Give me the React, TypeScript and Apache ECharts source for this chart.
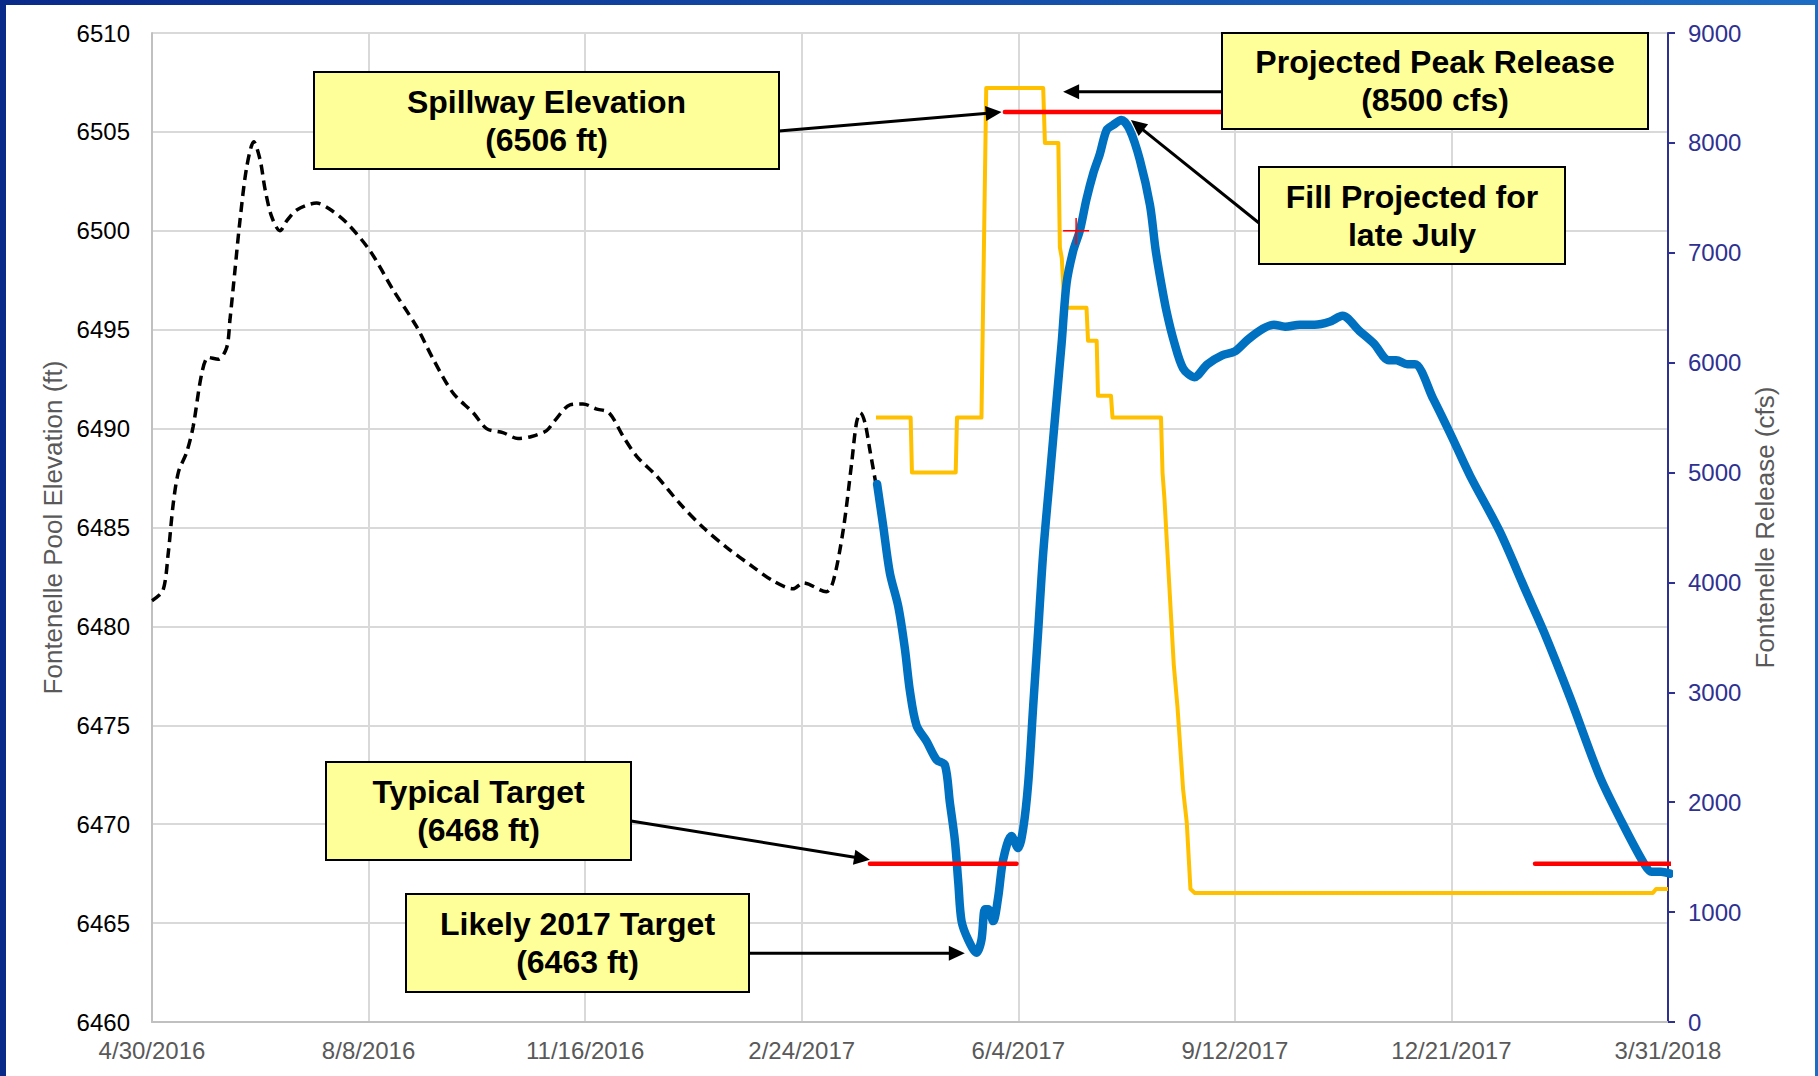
import React, { useEffect, useRef } from "react";
import * as echarts from "echarts";

// x values are days since 4/30/2016
const xTickLabels = [
  "4/30/2016",
  "8/8/2016",
  "11/16/2016",
  "2/24/2017",
  "6/4/2017",
  "9/12/2017",
  "12/21/2017",
  "3/31/2018",
];

// Historical pool elevation (ft) - dashed black
const historicalElevation: [number, number][] = [
  [0, 6481.3], [5, 6481.8], [7.5, 6483.7], [9.8, 6486.2], [12.2, 6487.8],
  [16, 6488.8], [19, 6490.1], [23, 6492.8], [26, 6493.6], [30.6, 6493.5],
  [34.5, 6494.1], [36, 6495.5], [38.3, 6498], [40.6, 6500.5], [43.7, 6503.2],
  [47, 6504.5], [49.9, 6503.6], [52.2, 6502.1], [55.3, 6500.7], [59.1, 6500.0],
  [62.2, 6500.5], [66.8, 6501.05], [76, 6501.4], [82, 6501.1], [89.9, 6500.4],
  [100.6, 6499.0], [111.4, 6497.0], [122.2, 6495.15], [129.9, 6493.5], [139, 6491.8],
  [148.3, 6490.8], [154.5, 6490.0], [162, 6489.8], [169, 6489.5], [175.3, 6489.6],
  [182.2, 6489.9], [186, 6490.4], [193, 6491.2], [199, 6491.25], [205, 6491.0],
  [211, 6490.8], [217.6, 6489.6], [223.8, 6488.6], [233, 6487.6], [243.8, 6486.2],
  [254.5, 6485.0], [265.3, 6484.0], [277.6, 6483.0], [286.8, 6482.3], [296, 6481.9],
  [300.7, 6482.2], [311.4, 6481.75], [314.6, 6482.3], [319.2, 6484.9], [323, 6488.2],
  [325.3, 6490.3], [327.1, 6490.8], [329.2, 6490.3], [331.5, 6488.9], [334.6, 6487.0],
];

// Projected pool elevation (ft) - thick blue
const projectedElevation: [number, number][] = [
  [334.8, 6487.2], [337.6, 6485.1], [340.7, 6482.7], [344.6, 6481.0], [347.6, 6478.9],
  [350, 6476.7], [353, 6475.0], [357.6, 6474.2], [362.3, 6473.25], [366.1, 6473.0],
  [368.4, 6471.1], [370.7, 6469.2], [372.3, 6467.05], [373.8, 6465.1], [376.9, 6464.15],
  [380.7, 6463.5], [383, 6464.15], [384.6, 6465.7], [386.1, 6465.7], [388.4, 6465.1],
  [390.7, 6466.3], [393, 6468.2], [396.8, 6469.4], [399.9, 6468.8], [402.3, 6469.8],
  [404.6, 6472.1], [406.9, 6476.0], [409.2, 6479.8], [411.5, 6483.7], [414.6, 6487.6],
  [417.7, 6491.45], [420, 6494.3], [422.3, 6497.35], [425.4, 6499.0], [428.4, 6500.0],
  [431.5, 6501.6], [434.6, 6502.9], [437.7, 6503.9], [440.8, 6505.1], [443.8, 6505.35],
  [447.6, 6505.6], [451.5, 6505.1], [456.1, 6503.6], [460.8, 6501.3], [463.4, 6499.05],
  [465.9, 6497.4], [468.5, 6495.9], [471.9, 6494.4], [476.1, 6493.05], [481.3, 6492.6],
  [487.3, 6493.25], [494.1, 6493.7], [500, 6493.9], [506, 6494.5], [512.9, 6495.05],
  [518, 6495.25], [523.2, 6495.15], [530, 6495.25], [536.8, 6495.25], [543.7, 6495.4],
  [549.7, 6495.7], [557.4, 6494.95], [564.2, 6494.3], [571.1, 6493.45], [574.5, 6493.45],
  [579.6, 6493.25], [583.1, 6493.25], [591.6, 6491.5], [600.1, 6489.6], [608.7, 6487.6],
  [622.3, 6484.8], [634.3, 6481.8], [642.8, 6479.7], [654.8, 6476.4], [668.5, 6472.4],
  [678.7, 6470.1], [689, 6468.0], [692.4, 6467.6], [696.7, 6467.6], [701, 6467.5],
];

// Projected release (cfs) - yellow, right axis
const projectedRelease: [number, number][] = [
  [334.3, 5500], [350.3, 5500], [350.9, 5000], [371.1, 5000], [371.7, 5500],
  [383.0, 5500], [385.2, 8500], [411.5, 8500], [412.3, 8000], [418.5, 8000],
  [419.2, 7050], [420.1, 6950], [421.3, 6500], [431.5, 6500], [432.2, 6200],
  [436.2, 6200], [436.8, 5700], [442.8, 5700], [443.5, 5500], [465.9, 5500],
  [466.6, 5000], [467.5, 4760], [469.2, 4155], [471.8, 3250], [473.5, 2870],
  [476.1, 2117], [477.8, 1815], [479.5, 1210], [481.5, 1175], [693.0, 1175],
  [694.5, 1210], [700.0, 1210],
];

// Reference lines (ft)
const spillwayElevation: [number, number][] = [[393.8, 6506], [502, 6506]];
const typicalTargetSpring: [number, number][] = [[331.5, 6468], [399.2, 6468]];
const typicalTargetNext: [number, number][] = [[638.6, 6468], [702.4, 6468]];
const fillMarkerH: [number, number][] = [[420.7, 6500], [432.7, 6500]];
const fillMarkerV: [number, number][] = [[426.7, 6500.65], [426.7, 6499.3]];

// Arrow tip points (days, value)
const tipSpillway: [number, number] = [392.3, 6506.0];
const tipPeakRelease: [number, number] = [420.7, 8465];
const tipFill: [number, number] = [452, 6505.6];
const tipTypical: [number, number] = [331.5, 6468.2];
const tipLikely: [number, number] = [375.3, 6463.47];

const FONT = "Liberation Sans, Arial, Helvetica, sans-serif";

function box(id: string, x: number, y: number, w: number, h: number, text: string) {
  return [
    {
      id: id + "_rect",
      type: "rect",
      z: 100,
      shape: { x, y, width: w, height: h },
      style: { fill: "#FFFF99", stroke: "#000000", lineWidth: 2 },
    },
    {
      id: id + "_text",
      type: "text",
      z: 101,
      x: x + w / 2,
      y: y + h / 2,
      style: {
        text,
        fill: "#000000",
        fontFamily: FONT,
        fontSize: 32,
        fontWeight: "bold",
        lineHeight: 38,
        align: "center",
        verticalAlign: "middle",
      },
    },
  ];
}

function arrow(id: string, x1: number, y1: number, x2: number, y2: number) {
  const dx = x2 - x1;
  const dy = y2 - y1;
  const L = Math.hypot(dx, dy);
  const ux = dx / L;
  const uy = dy / L;
  const hl = 16;
  const hw = 7.5;
  const bx = x2 - ux * hl;
  const by = y2 - uy * hl;
  return [
    {
      id: id + "_line",
      type: "line",
      z: 100,
      shape: { x1, y1, x2: bx + ux * 2, y2: by + uy * 2 },
      style: { stroke: "#000000", lineWidth: 3 },
    },
    {
      id: id + "_head",
      type: "polygon",
      z: 100,
      shape: {
        points: [
          [x2, y2],
          [bx - uy * hw, by + ux * hw],
          [bx + uy * hw, by - ux * hw],
        ],
      },
      style: { fill: "#000000" },
    },
  ];
}

export default function App() {
  const ref = useRef<HTMLDivElement>(null);

  useEffect(() => {
    if (!ref.current) return;
    const chart = echarts.init(ref.current, null, { renderer: "svg" });

    const option: any = {
      animation: false,
      backgroundColor: "transparent",
      grid: { left: 152, right: 150, top: 33, bottom: 54, containLabel: false },
      xAxis: {
        type: "value",
        min: 0,
        max: 700,
        interval: 100,
        axisLine: { show: true, onZero: false, lineStyle: { color: "#c0c0c0", width: 2 } },
        axisTick: { show: false },
        axisLabel: {
          show: true,
          showMinLabel: true,
          showMaxLabel: true,
          color: "#595959",
          fontSize: 24,
          fontFamily: FONT,
          margin: 16,
          formatter: (v: number) => xTickLabels[Math.round(v / 100)] ?? "",
        },
        splitLine: { show: true, lineStyle: { color: "#d9d9d9", width: 2 } },
      },
      yAxis: [
        {
          type: "value",
          position: "left",
          min: 6460,
          max: 6510,
          interval: 5,
          name: "Fontenelle Pool Elevation (ft)",
          nameLocation: "middle",
          nameRotate: 90,
          nameGap: 74,
          nameTextStyle: { color: "#595959", fontSize: 26, fontFamily: FONT },
          axisLine: { show: true, lineStyle: { color: "#c0c0c0", width: 2 } },
          axisTick: { show: false },
          axisLabel: {
            color: "#000000",
            fontSize: 24,
            fontFamily: FONT,
            margin: 22,
            formatter: (v: number) => String(v),
          },
          splitLine: { show: true, lineStyle: { color: "#d9d9d9", width: 2 } },
        },
        {
          type: "value",
          position: "right",
          min: 0,
          max: 9000,
          interval: 1000,
          name: "Fontenelle Release (cfs)",
          nameLocation: "middle",
          nameRotate: 90,
          nameGap: 76,
          nameTextStyle: { color: "#595959", fontSize: 26, fontFamily: FONT },
          axisLine: { show: true, lineStyle: { color: "#2E3192", width: 2 } },
          axisTick: { show: true, inside: false, length: 7, lineStyle: { color: "#2E3192", width: 2 } },
          axisLabel: {
            color: "#2E3192",
            fontSize: 24,
            fontFamily: FONT,
            margin: 20,
            formatter: (v: number) => String(v),
          },
          splitLine: { show: false },
        },
      ],
      series: [
        {
          name: "Projected Release",
          type: "line",
          yAxisIndex: 1,
          data: projectedRelease,
          showSymbol: false,
          symbol: "none",
          lineStyle: { color: "#FFC000", width: 4, join: "round" },
          z: 3,
        },
        {
          name: "Historical Elevation",
          type: "line",
          yAxisIndex: 0,
          data: historicalElevation,
          smooth: 0.3,
          symbol: "none",
          lineStyle: { color: "#000000", width: 3.5, type: [10, 6] },
          z: 4,
        },
        {
          name: "Projected Elevation",
          type: "line",
          yAxisIndex: 0,
          data: projectedElevation,
          smooth: 0.3,
          symbol: "none",
          clip: false,
          lineStyle: { color: "#0070C0", width: 8.5, cap: "round", join: "round" },
          z: 5,
        },
        {
          name: "Spillway",
          type: "line",
          yAxisIndex: 0,
          data: spillwayElevation,
          symbol: "none",
          lineStyle: { color: "#FF0000", width: 4.5, cap: "round" },
          z: 6,
        },
        {
          name: "Typical Target",
          type: "line",
          yAxisIndex: 0,
          data: typicalTargetSpring,
          symbol: "none",
          lineStyle: { color: "#FF0000", width: 4.5, cap: "round" },
          z: 6,
        },
        {
          name: "Typical Target 2018",
          type: "line",
          yAxisIndex: 0,
          data: typicalTargetNext,
          symbol: "none",
          clip: false,
          lineStyle: { color: "#FF0000", width: 4.5, cap: "round" },
          z: 6,
        },
        {
          name: "Fill marker H",
          type: "line",
          yAxisIndex: 0,
          data: fillMarkerH,
          symbol: "none",
          lineStyle: { color: "#FF0000", width: 1.5 },
          z: 7,
        },
        {
          name: "Fill marker V",
          type: "line",
          yAxisIndex: 0,
          data: fillMarkerV,
          symbol: "none",
          lineStyle: { color: "#FF0000", width: 1.5 },
          z: 7,
        },
      ],
    };

    chart.setOption(option);

    const toLeft = (p: [number, number]) =>
      chart.convertToPixel({ seriesIndex: 2 }, p) as number[];
    const toRight = (p: [number, number]) =>
      chart.convertToPixel({ seriesIndex: 0 }, p) as number[];

    const tS = toLeft(tipSpillway);
    const tP = toRight(tipPeakRelease);
    const tF = toLeft(tipFill);
    const tT = toLeft(tipTypical);
    const tL = toLeft(tipLikely);

    const graphics: any[] = [
      ...arrow("a_spill", 779, 131, tS[0], tS[1]),
      ...arrow("a_peak", 1222, tP[1], tP[0], tP[1]),
      ...arrow("a_fill", 1259, 223, tF[0], tF[1]),
      ...arrow("a_typ", 631, 821, tT[0], tT[1]),
      ...arrow("a_likely", 749, tL[1], tL[0], tL[1]),
      ...box("b_spill", 314, 72, 465, 97, "Spillway Elevation\n(6506 ft)"),
      ...box("b_peak", 1222, 33, 426, 96, "Projected Peak Release\n(8500 cfs)"),
      ...box("b_fill", 1259, 167, 306, 97, "Fill Projected for\nlate July"),
      ...box("b_typ", 326, 762, 305, 98, "Typical Target\n(6468 ft)"),
      ...box("b_likely", 406, 894, 343, 98, "Likely 2017 Target\n(6463 ft)"),
    ];

    chart.setOption({ graphic: graphics });

    return () => {
      chart.dispose();
    };
  }, []);

  return (
    <div
      style={{
        position: "fixed",
        left: 0,
        top: 0,
        width: 1818,
        height: 1076,
        background: "linear-gradient(90deg, #0a2a8a 0%, #1d6cc3 100%)",
        overflow: "hidden",
      }}
    >
      <div
        style={{
          position: "absolute",
          left: 6,
          top: 5,
          right: 3,
          bottom: 0,
          background: "#ffffff",
        }}
      />
      <div
        ref={ref}
        style={{ position: "absolute", left: 0, top: 0, width: 1818, height: 1076 }}
      />
    </div>
  );
}
